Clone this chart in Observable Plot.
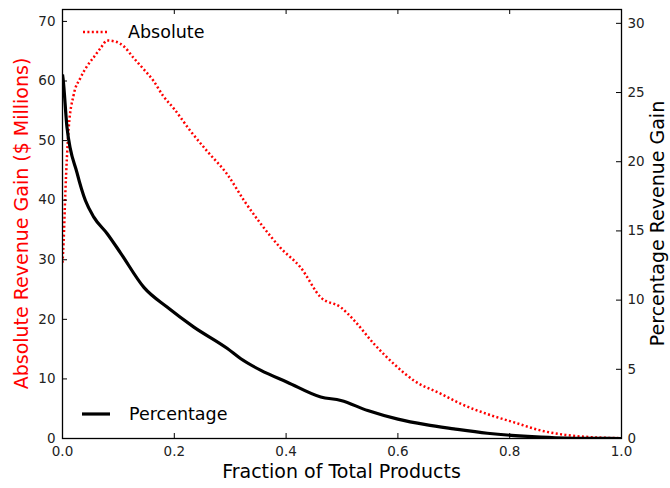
<!DOCTYPE html>
<html><head><meta charset="utf-8">
<script src="https://cdn.jsdelivr.net/npm/d3@7"></script>
<script src="https://cdn.jsdelivr.net/npm/@observablehq/plot@0.6"></script>
<style>
body{margin:0;background:#fff}
svg{font-family:"DejaVu Sans",sans-serif}
</style>
</head><body><div id="chart"></div>
<script>
// Absolute revenue gain ($ Millions), left axis
const absFrac = [0, 0.002, 0.005, 0.011, 0.020, 0.032, 0.044, 0.056, 0.068, 0.080, 0.095, 0.110, 0.127, 0.145, 0.163, 0.180, 0.199, 0.229, 0.259, 0.295, 0.325, 0.355, 0.390, 0.426, 0.462, 0.498, 0.522, 0.557, 0.593, 0.629, 0.677, 0.713, 0.760, 0.808, 0.856, 0.900, 0.950, 1.0];
const absVal  = [29.5, 33, 41, 52, 57.7, 60.5, 62.5, 64, 65.5, 66.8, 66.6, 65.8, 63.9, 62, 60, 57.5, 55.4, 51.6, 48.2, 44.3, 39.9, 36.0, 32.0, 28.7, 23.7, 22.0, 19.8, 15.9, 12.5, 9.7, 7.5, 5.8, 4.1, 2.7, 1.34, 0.6, 0.2, 0.05];
// Percentage revenue gain, right axis
const pctFrac = [0, 0.001, 0.008, 0.026, 0.041, 0.056, 0.080, 0.104, 0.146, 0.187, 0.235, 0.295, 0.319, 0.355, 0.402, 0.462, 0.498, 0.546, 0.600, 0.650, 0.700, 0.760, 0.856, 0.900, 0.950, 1.0];
const pctVal  = [26.3, 26.0, 22.5, 19.2, 17.2, 16.0, 14.8, 13.4, 10.9, 9.5, 8.05, 6.5, 5.76, 4.92, 4.07, 3.0, 2.75, 2.02, 1.4, 1.0, 0.70, 0.38, 0.1, 0.03, 0.01, 0];

const xTicks = [0, 0.2, 0.4, 0.6, 0.8, 1.0];
const leftTicks = [0, 10, 20, 30, 40, 50, 60, 70];
const rightTicks = [0, 5, 10, 15, 20, 25, 30];
const leftMax = 72, rightMax = 31;
const k = leftMax / rightMax;

const xLabel = "Fraction of Total Products";
const leftLabel = "Absolute Revenue Gain ($ Millions)";
const rightLabel = "Percentage Revenue Gain";
const legendAbs = "Absolute";
const legendPct = "Percentage";

const absData = absFrac.map((f, i) => ({f, v: absVal[i]}));
const pctData = pctFrac.map((f, i) => ({f, v: pctVal[i] * k}));

const W = 670, H = 488, mL = 62, mR = 49, mT = 9, mB = 50;
const iw = W - mL - mR, ih = H - mT - mB;
const tick = 5;
const dash = "2,2.4";

const chart = Plot.plot({
  width: W, height: H,
  marginLeft: mL, marginRight: mR, marginTop: mT, marginBottom: mB,
  style: {fontFamily: "DejaVu Sans", fontSize: "13.5px", color: "#000", background: "#fff", overflow: "visible"},
  x: {domain: [0, 1]},
  y: {domain: [0, leftMax]},
  marks: [
    Plot.line(absData, {x: "f", y: "v", stroke: "#ff0000", strokeWidth: 2.5, strokeDasharray: dash,
      strokeLinecap: "butt", strokeLinejoin: "miter", curve: "monotone-x", clip: true}),
    Plot.line(pctData, {x: "f", y: "v", stroke: "#000", strokeWidth: 3.2, strokeLinecap: "butt", curve: "monotone-x", clip: true}),
    Plot.frame({stroke: "#000", strokeWidth: 1.3}),
    Plot.axisX({ticks: xTicks, tickSize: 0, tickPadding: 8, tickFormat: d3.format(".1f"), label: null, fill: "#222"}),
    Plot.axisY({ticks: leftTicks, tickSize: 0, tickPadding: 7, label: null, fill: "#222"}),
    Plot.axisY({ticks: rightTicks.map(t => t * k), anchor: "right", tickSize: 0, tickPadding: 6,
      tickFormat: d => String(Math.round(d / k)), label: null, fill: "#222"}),
    Plot.tickY(leftTicks, {y: d => d, insetRight: iw - tick, stroke: "#000"}),
    Plot.tickY(rightTicks, {y: d => d * k, insetLeft: iw - tick, stroke: "#000"}),
    Plot.tickX(xTicks, {x: d => d, insetTop: ih - tick, stroke: "#000"}),
    Plot.tickX(xTicks, {x: d => d, insetBottom: ih - tick, stroke: "#000"})
  ]
});

const svg = d3.select(chart);

// axis labels
svg.append("text").attr("x", mL + iw / 2).attr("y", H - 10)
  .attr("text-anchor", "middle").attr("font-size", 19).attr("fill", "#000").text(xLabel);
svg.append("text").attr("transform", `translate(21,${mT + ih / 2}) rotate(-90)`)
  .attr("text-anchor", "middle").attr("dominant-baseline", "central")
  .attr("font-size", 19).attr("fill", "#ff0000").text(leftLabel);
svg.append("text").attr("transform", `translate(657,${mT + ih / 2}) rotate(-90)`)
  .attr("text-anchor", "middle").attr("dominant-baseline", "central")
  .attr("font-size", 19).attr("fill", "#000").text(rightLabel);
// legend
const lg1 = svg.append("g").attr("transform", `translate(${mL + 21},${mT + 23})`);
lg1.append("line").attr("x1", 0).attr("x2", 26).attr("y1", 0).attr("y2", 0)
  .attr("stroke", "#ff0000").attr("stroke-width", 2.5).attr("stroke-dasharray", dash);
lg1.append("text").attr("x", 45).attr("y", 0).attr("dominant-baseline", "central")
  .attr("text-anchor", "start").attr("font-size", 17.5).attr("fill", "#000").text(legendAbs);
const lg2 = svg.append("g").attr("transform", `translate(${mL + 20},${mT + ih - 24})`);
lg2.append("line").attr("x1", 0).attr("x2", 28).attr("y1", 0).attr("y2", 0)
  .attr("stroke", "#000").attr("stroke-width", 3.2);
lg2.append("text").attr("x", 47).attr("y", 0).attr("dominant-baseline", "central")
  .attr("text-anchor", "start").attr("font-size", 17.5).attr("fill", "#000").text(legendPct);

document.getElementById("chart").appendChild(chart);
</script>
</body></html>
